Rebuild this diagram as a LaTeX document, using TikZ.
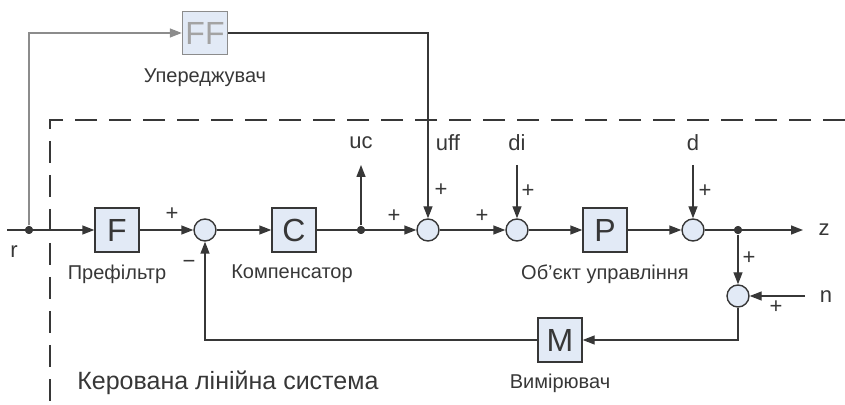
\documentclass[tikz,border=0pt]{standalone}
\usepackage{fontspec}
\setmainfont{Liberation Sans}
\usepackage{tikz}
\usetikzlibrary{shapes,arrows,arrows.meta}
\usetikzlibrary{positioning}
\definecolor{boxfill}{RGB}{226,234,246}
\definecolor{linegray}{RGB}{55,55,55}
\definecolor{ffgray}{RGB}{140,140,140}

\begin{document}
\begin{tikzpicture}[x=0.5pt,y=-0.5pt,line width=0.7pt,color=linegray,
    block/.style={draw,fill=boxfill,minimum width=22pt,minimum height=22pt,
      inner sep=0pt,font=\fontsize{16}{16}\selectfont},
    sumnode/.style={draw,circle,fill=boxfill,minimum size=11pt,inner sep=0pt},
    dotnode/.style={circle,fill,minimum size=4pt,inner sep=0pt},
    sig/.style={-{Triangle[length=6pt,width=4.5pt]}},
    lbl/.style={font=\fontsize{10}{12}\selectfont},
    io/.style={font=\fontsize{11}{12}\selectfont},
    sgn/.style={font=\fontsize{11}{11}\selectfont,inner sep=0pt}]

        \useasboundingbox (0,0) rectangle (845,405);
        \pgfmathsetmacro{\yM}{230}
        \pgfmathsetmacro{\yS}{165}

        % system border
        \draw[dash pattern=on 11pt off 6pt,line width=0.7pt]
          (845,120) -- (50,120) -- (50,405);

        % blocks
        \node[block,draw=ffgray,text=ffgray!80,minimum width=22.5pt,minimum height=21.5pt]
          (FF) at (205,33) {FF};
        \node[block] (F) at (117,\yM) {F};
        \node[block] (C) at (294,\yM) {C};
        \node[block] (P) at (605,\yM) {P};
        \node[block] (M) at (560,340) {M};

        \foreach \name/\x/\y in {s1/205/\yM, s2/428/\yM, s3/517/\yM, s4/693/\yM, s5/738/296}
        {
          \node[sumnode] (\name) at (\x,\y) {};
        }
        \foreach \name/\x in {rdot/29, ucdot/361, zdot/738}
        {
          \node[dotnode] (\name) at (\x,\yM) {};
        }

        \coordinate (rin) at (7,\yM);
        \coordinate (zout) at (803,\yM);
        \coordinate (ucout) at (361,\yS);
        \coordinate (diin) at (517,\yS);
        \coordinate (din) at (693,\yS);
        \coordinate (nin) at (805,296);

        % feedforward path
        \draw[sig,ffgray] (rdot) |- (FF);
        \draw[sig] (FF) -| (s2);

        % main path
        \draw[sig] (rin) -- (F);
        \draw[sig] (F) -- (s1);
        \draw[sig] (s1) -- (C);
        \draw[sig] (C) -- (s2);
        \draw[sig] (ucdot) -- (ucout);
        \draw[sig] (s2) -- (s3);
        \draw[sig] (s3) -- (P);
        \draw[sig] (P) -- (s4);
        \draw[sig] (s4) -- (zout);
        \draw[sig] (diin) -- (s3);
        \draw[sig] (din) -- (s4);

        % measurement loop
        \draw[sig] (zdot) -- (s5);
        \draw[sig] (nin) -- (s5);
        \draw[sig] (s5) |- (M);
        \draw[sig] (M) -| (s1);

        \node[dotnode] at (rdot) {};
        \node[dotnode] at (ucdot) {};
        \node[dotnode] at (zdot) {};

        % signal names
        \node[io] (rlbl) at (14,252) {r};
        \node[io] (uclbl) at (361,143) {uc};
        \node[io] (ufflbl) at (448,143) {uff};
        \node[io] (dilbl) at (517,143) {di};
        \node[io] (dlbl) at (693,143) {d};
        \node[io] (zlbl) at (824,\yM) {z};
        \node[io] (nlbl) at (826,297) {n};

        % signs
        \node[sgn] (p1) at (172,214) {+};
        \node[sgn] (m1) at (189,264) {\textminus};
        \node[sgn] (p2a) at (394,216) {+};
        \node[sgn] (p2b) at (441,190) {+};
        \node[sgn] (p3a) at (482,216) {+};
        \node[sgn] (p3b) at (528,191) {+};
        \node[sgn] (p4) at (705,191) {+};
        \node[sgn] (p5a) at (749,258) {+};
        \node[sgn] (p5b) at (776,307) {+};

        % block names
        \node[lbl] (FFlbl) at (205,78) {Упереджувач};
        \node[lbl] (Flbl) at (117,274) {Префільтр};
        \node[lbl] (Clbl) at (292,274) {Компенсатор};
        \node[lbl] (Plbl) at (605,274) {Об’єкт управління};
        \node[lbl] (Mlbl) at (560,383) {Вимірювач};
        \node[font=\fontsize{12.5}{14}\selectfont,anchor=west] (syslbl) at (70,383)
          {Керована лінійна система};
      \end{tikzpicture}
\end{document}
